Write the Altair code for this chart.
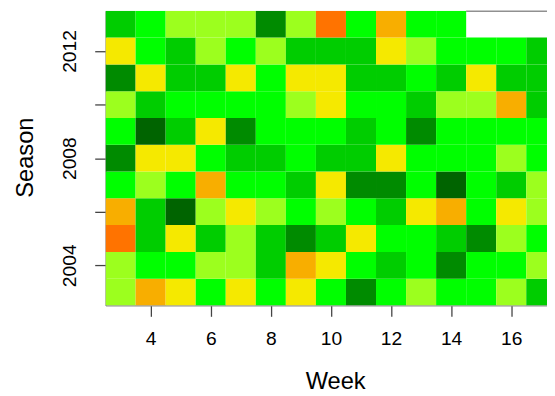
import altair as alt
import pandas as pd

weeks = list(range(3, 18))
seasons = list(range(2003, 2014))

# category level per cell (weeks 3..17); 1 = darkest green ... 8 = dark orange
s2003 = [5, 7, 6, 4, 6, 4, 6, 4, 2, 4, 5, 4, 4, 5, 3]
s2004 = [5, 4, 4, 5, 5, 3, 7, 6, 4, 3, 4, 2, 4, 4, 5]
s2005 = [8, 3, 6, 3, 5, 3, 2, 3, 6, 4, 4, 3, 2, 5, 4]
s2006 = [7, 3, 1, 5, 6, 5, 4, 5, 4, 3, 6, 7, 4, 6, 5]
s2007 = [4, 5, 4, 7, 4, 4, 3, 6, 2, 2, 4, 1, 4, 3, 5]
s2008 = [2, 6, 6, 4, 3, 3, 4, 3, 3, 6, 4, 4, 4, 5, 4]
s2009 = [4, 1, 3, 6, 2, 4, 4, 4, 3, 4, 2, 4, 4, 4, 4]
s2010 = [5, 3, 4, 4, 4, 4, 5, 6, 4, 4, 3, 5, 5, 7, 3]
s2011 = [2, 6, 3, 3, 6, 4, 6, 6, 3, 3, 4, 3, 6, 3, 3]
s2012 = [6, 4, 3, 5, 4, 5, 3, 3, 3, 6, 5, 4, 4, 4, 3]
s2013 = [3, 4, 5, 5, 5, 2, 5, 8, 4, 7, 4, 4]  # weeks 15-17 missing

rows = [s2003, s2004, s2005, s2006, s2007, s2008, s2009, s2010, s2011, s2012, s2013]

level_domain = [1, 2, 3, 4, 5, 6, 7, 8]
level_colors = ["#006400", "#008B00", "#00CD00", "#00FF00",
                "#9CFF1E", "#F5E900", "#F8AE00", "#FF7300"]

records = []
for season, vals in zip(seasons, rows):
    for week, v in zip(weeks, vals):
        records.append({"Week": week, "Season": season, "level": v})
df = pd.DataFrame(records)

missing = pd.DataFrame({"w0": [14.5], "w1": [17.5], "s": [2013.5]})

font = "Liberation Sans"
xscale = alt.Scale(domain=[2.5, 17.19], nice=False, zero=False)
yscale = alt.Scale(domain=[2002.5, 2013.5], nice=False, zero=False)

xaxis = alt.Axis(values=[4, 6, 8, 10, 12, 14, 16], format="d", grid=False,
                 tickSize=11, tickColor="#444", tickWidth=1.3,
                 domainColor="#8c8c8c", domainWidth=1.3,
                 labelFont=font, labelFontSize=19.5, labelColor="black",
                 labelPadding=13.5, labelAngle=0,
                 title="Week", titleFont=font, titleFontSize=24,
                 titleFontWeight="normal", titleColor="black",
                 titleX=233, titleY=84.7, titleBaseline="alphabetic",
                 titleAlign="center")
yaxis = alt.Axis(values=[2004, 2006, 2008, 2010, 2012], format="d", grid=False,
                 labelExpr="datum.value % 4 == 0 ? datum.label : ''",
                 tickSize=11, tickColor="#444", tickWidth=1.3,
                 domainColor="#8c8c8c", domainWidth=1.3,
                 labelFont=font, labelFontSize=19.5, labelColor="black",
                 labelAngle=270, labelAlign="center", labelBaseline="alphabetic",
                 labelPadding=19,
                 title="Season", titleFont=font, titleFontSize=24,
                 titleFontWeight="normal", titleColor="black",
                 titleAngle=270, titleX=-74, titleY=148.5,
                 titleBaseline="alphabetic", titleAlign="center")

cells = alt.Chart(df).mark_rect(clip=True, strokeWidth=0).transform_calculate(
    w0="datum.Week - 0.5", w1="datum.Week + 0.5",
    s0="datum.Season - 0.5", s1="datum.Season + 0.5",
).encode(
    x=alt.X("w0:Q", scale=xscale, axis=xaxis),
    x2="w1:Q",
    y=alt.Y("s0:Q", scale=yscale, axis=yaxis),
    y2="s1:Q",
    color=alt.Color("level:O", scale=alt.Scale(domain=level_domain, range=level_colors),
                    legend=None),
)

topline = alt.Chart(missing).mark_rule(clip=True, color="#222", strokeWidth=1.5).encode(
    x=alt.X("w0:Q", scale=xscale),
    x2="w1:Q",
    y=alt.Y("s:Q", scale=yscale),
)

chart = alt.layer(cells, topline).properties(
    width=448, height=299,
    padding={"left": 99, "top": 0, "right": 0, "bottom": 89},
    autosize=alt.AutoSizeParams(type="none"),
).configure_view(stroke=None)

chart.save("out.html", embed_options={"renderer": "svg", "actions": False})
